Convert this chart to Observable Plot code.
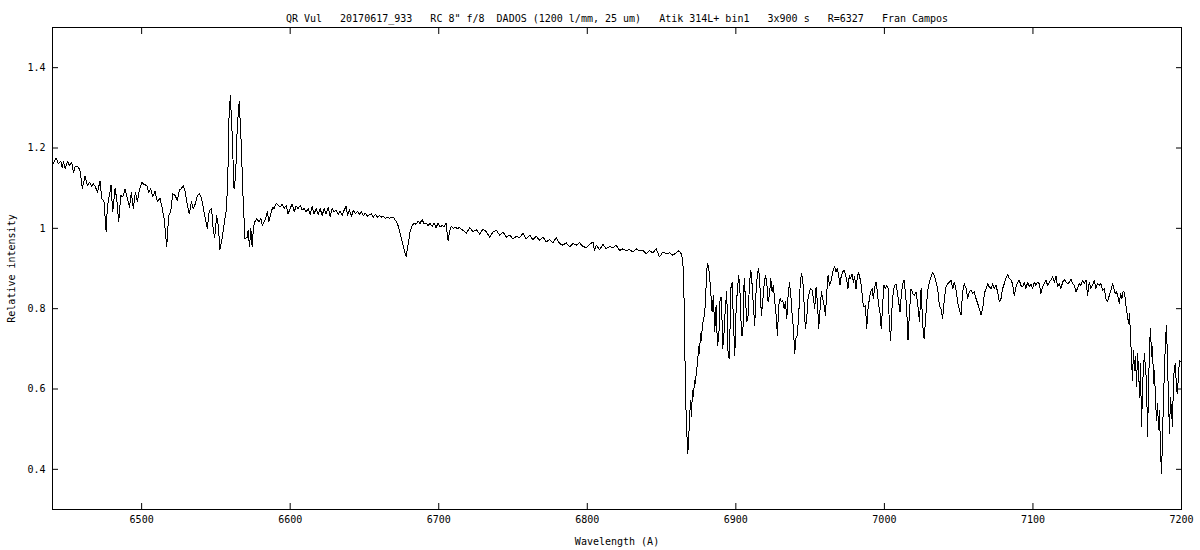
<!DOCTYPE html>
<html><head><meta charset="utf-8">
<script src="https://cdn.jsdelivr.net/npm/d3@7"></script>
<script src="https://cdn.jsdelivr.net/npm/@observablehq/plot@0.6"></script>
<style>
html,body{margin:0;padding:0;background:#fff;}
#chart svg{display:block;}
#chart text{white-space:pre;}
#chart g[aria-label="line"] path{shape-rendering:crispEdges;}
</style></head><body><div id="chart"></div>
<script>
const titleText = 'QR Vul   20170617_933   RC 8" f/8  DADOS (1200 l/mm, 25 um)   Atik 314L+ bin1   3x900 s   R=6327   Fran Campos';
const xLabel = "Wavelength (A)";
const yLabel = "Relative intensity";
const xTicks = [6500, 6600, 6700, 6800, 6900, 7000, 7100, 7200];
const yTicks = [0.4, 0.6, 0.8, 1, 1.2, 1.4];
const xDomain = [6440, 7200];
const yDomain = [0.3, 1.5];

// [wavelength (A), relative intensity]
const segBlue = [
[6440.0,1.157],[6442.4,1.175],[6444.0,1.161],[6445.6,1.167],[6446.5,1.150],[6447.4,1.167],[6448.5,1.148],[6450.1,1.167],
[6451.4,1.157],[6453.0,1.163],[6454.1,1.139],[6455.4,1.155],[6457.5,1.152],[6458.6,1.142],[6460.1,1.100],[6461.9,1.130],
[6463.5,1.107],[6464.9,1.115],[6466.2,1.105],[6467.5,1.111],[6468.9,1.103],[6470.2,1.090],[6472.0,1.117],[6473.2,1.074],
[6474.7,1.066],[6476.1,0.991],[6477.0,1.057],[6478.3,1.082],[6479.4,1.107],[6480.5,1.041],[6482.1,1.099],[6483.2,1.074],
[6484.6,1.016],[6485.9,1.082],[6487.3,1.078],[6488.8,1.097],[6490.4,1.074],[6491.8,1.053],[6493.1,1.090],[6494.4,1.049],
[6495.8,1.090],[6497.1,1.066],[6498.5,1.095],[6500.1,1.115],[6501.6,1.109],[6503.4,1.107],[6504.8,1.090],[6506.1,1.099],
[6507.5,1.078],[6509.0,1.092],[6510.6,1.067],[6512.4,1.074],[6513.7,1.053],[6515.3,1.020],[6516.9,0.954],[6518.2,1.032],
[6519.6,1.041],[6520.9,1.086],[6522.5,1.082],[6524.0,1.070],[6525.4,1.095],[6526.7,1.099],[6528.1,1.107],[6529.4,1.090],
[6530.8,1.057],[6532.1,1.036],[6533.5,1.066],[6534.8,1.049],[6536.1,1.061],[6537.5,1.082],[6538.8,1.086],[6540.4,1.074],
[6542.0,1.041],[6543.3,1.016],[6544.2,0.999],[6545.6,1.045],[6547.1,1.049],[6548.3,0.991],[6549.2,0.978],[6550.5,1.032],
[6551.6,1.007],[6552.7,0.948],[6554.1,0.974],[6555.4,1.007],[6556.8,1.041],[6557.9,1.107],[6558.8,1.273],[6559.7,1.331],
[6560.8,1.248],[6562.2,1.099],[6563.3,1.132],[6564.4,1.256],[6565.7,1.316],[6566.9,1.223],[6568.4,1.066],[6569.6,0.974],
[6571.1,0.978]
];
const segContinuum = [
[6571.7,0.995],[6572.6,0.954],[6573.5,0.999],[6574.4,0.954],[6575.3,1.003],[6576.2,1.016],[6577.6,1.024],[6578.9,1.016],
[6580.3,1.024],[6581.2,1.007],[6582.5,1.016],[6583.8,1.028],[6584.7,1.043],[6585.6,1.016],[6587.0,1.038],[6588.3,1.053],
[6589.2,1.049],[6590.6,1.063],[6591.9,1.057],[6593.3,1.053],[6594.6,1.060],[6596.0,1.049],[6597.3,1.057],[6598.6,1.036],
[6600.0,1.049],[6601.3,1.061],[6602.7,1.041],[6604.0,1.055],[6605.4,1.049],[6606.7,1.057],[6608.1,1.046],[6609.4,1.049],
[6610.8,1.041],[6612.1,1.049],[6613.4,1.035],[6614.8,1.055],[6616.1,1.036],[6617.5,1.049],[6618.8,1.035],[6620.2,1.049],
[6621.5,1.032],[6622.9,1.049],[6624.2,1.036],[6625.6,1.051],[6626.9,1.030],[6628.2,1.049],[6629.6,1.041],[6630.9,1.045],
[6632.3,1.035],[6633.6,1.043],[6635.0,1.032],[6636.3,1.045],[6637.7,1.055],[6638.6,1.032],[6639.9,1.046],[6641.2,1.030],
[6642.6,1.045],[6643.9,1.036],[6645.3,1.043],[6646.6,1.035],[6648.0,1.041],[6649.3,1.032],[6650.7,1.038],[6652.0,1.030],
[6653.4,1.035],[6654.7,1.036],[6656.0,1.028],[6657.4,1.035],[6658.7,1.028],[6660.1,1.032],[6661.4,1.028],[6662.8,1.030],
[6664.1,1.024],[6665.5,1.028],[6666.8,1.025],[6668.1,1.028],[6669.5,1.028],[6670.8,1.020],[6672.2,1.012],[6673.5,0.995],
[6674.9,0.974],[6676.2,0.954],[6677.1,0.941],[6678.0,0.930],[6678.9,0.949],[6679.8,0.970],[6680.7,0.991],[6682.1,1.007],
[6683.4,1.013],[6684.7,1.010],[6686.1,1.018],[6687.4,1.012],[6688.8,1.022],[6690.1,1.012],[6691.5,1.013],[6692.8,1.007],
[6694.2,1.012],[6695.5,1.005],[6696.8,1.013],[6698.2,1.002],[6699.5,1.012],[6700.9,1.003],[6702.2,1.007],[6703.6,1.005],
[6704.9,1.012],[6706.3,0.970],[6707.2,0.991],[6708.5,1.005],[6709.9,0.999],[6711.2,1.003],[6712.5,0.999],[6713.9,1.002],
[6715.2,0.997],[6716.6,0.995]
];
const segBand = [
[6718.6,0.987],[6720.8,1.002],[6723.1,0.991],[6725.3,0.997],[6727.6,0.985],[6729.8,0.999],[6732.0,0.991],[6734.3,0.978],
[6736.5,0.991],[6738.8,0.995],[6741.0,0.983],[6743.2,0.991],[6745.5,0.978],[6747.7,0.983],[6750.0,0.974],[6752.2,0.980],
[6754.5,0.977],[6756.7,0.988],[6758.9,0.974],[6761.2,0.983],[6763.4,0.972],[6765.7,0.980],[6767.9,0.970],[6770.2,0.978],
[6772.4,0.966],[6774.6,0.972],[6776.9,0.964],[6779.1,0.977],[6781.4,0.962],[6783.6,0.958],[6785.8,0.964],[6788.1,0.954],
[6790.3,0.962],[6792.6,0.958],[6794.8,0.964],[6797.1,0.955],[6799.3,0.952],[6801.5,0.960],[6803.8,0.966],[6804.9,0.945],
[6806.0,0.958],[6808.3,0.947],[6810.5,0.960],[6812.7,0.949],[6815.0,0.955],[6817.2,0.952],[6819.5,0.958],[6821.7,0.945],
[6824.0,0.949],[6826.2,0.945],[6828.4,0.947],[6830.7,0.941],[6832.9,0.949],[6835.2,0.944],[6837.4,0.945],[6839.6,0.937],
[6841.9,0.944],[6844.1,0.939],[6846.4,0.949],[6848.6,0.929],[6850.9,0.941],[6853.1,0.937],[6855.3,0.939],[6857.6,0.933],
[6859.8,0.939],[6861.6,0.944],[6863.2,0.937],[6864.3,0.920],[6865.0,0.854],[6865.7,0.688],[6866.3,0.564],[6867.0,0.489],
[6867.7,0.440],[6868.3,0.481],[6868.8,0.523],[6869.5,0.572],[6870.1,0.531],[6870.8,0.597],[6871.5,0.581],[6872.2,0.622],
[6872.8,0.614],[6873.5,0.647],[6874.2,0.663],[6874.9,0.705],[6875.5,0.688],[6876.2,0.738],[6876.9,0.721],[6877.5,0.763],
[6878.2,0.771],[6878.9,0.788],[6879.6,0.813],[6880.2,0.887],[6880.9,0.912],[6881.6,0.904]
];
const segTelluricA = [
[6882.3,0.883],[6883.4,0.825],[6884.0,0.792],[6884.9,0.833],[6885.8,0.742],[6886.7,0.808],[6887.6,0.709],[6888.5,0.726],
[6889.4,0.825],[6890.3,0.829],[6891.2,0.701],[6892.1,0.742],[6893.0,0.808],[6893.9,0.842],[6894.8,0.684],[6895.7,0.676],
[6896.6,0.850],[6897.5,0.866],[6898.4,0.767],[6899.3,0.684],[6900.2,0.800],[6901.1,0.850],[6902.0,0.883],[6902.9,0.833],
[6903.8,0.734],[6904.7,0.734],[6905.6,0.875],[6906.5,0.825],[6907.4,0.767],[6908.3,0.784],[6909.2,0.866],[6910.1,0.895],
[6911.0,0.858],[6911.8,0.808],[6912.7,0.759],[6913.6,0.842],[6914.5,0.887],[6915.4,0.900],[6916.3,0.850],[6917.2,0.784],
[6918.1,0.817],[6919.0,0.858],[6919.9,0.883],[6920.8,0.866],[6921.7,0.817],[6922.6,0.833],[6923.5,0.875],[6924.4,0.842],
[6925.3,0.858],[6926.2,0.817],[6927.1,0.784],[6928.0,0.734],[6928.9,0.808],[6929.8,0.825],[6930.7,0.817],[6931.6,0.821],
[6932.5,0.800],[6933.4,0.817],[6934.3,0.775],[6935.2,0.833],[6936.1,0.866],[6937.0,0.833],[6937.9,0.784],[6938.8,0.750],
[6939.6,0.688],[6940.5,0.726],[6941.4,0.734],[6942.3,0.784],[6943.2,0.850],[6944.1,0.887],[6945.0,0.875],[6945.9,0.817],
[6946.8,0.750],[6947.7,0.775],[6948.6,0.825],[6949.5,0.842],[6950.4,0.850],[6951.3,0.846],[6952.2,0.825],[6953.1,0.800],
[6954.0,0.854],[6954.9,0.817],[6955.8,0.750],[6956.7,0.800],[6957.6,0.842],[6958.5,0.825],[6959.4,0.808],[6960.3,0.784],
[6961.2,0.842],[6962.1,0.883],[6963.0,0.858],[6963.9,0.866],[6964.8,0.883],[6965.7,0.900],[6966.6,0.904],[6967.4,0.891],
[6968.3,0.900],[6969.2,0.883],[6970.1,0.858],[6971.0,0.883],[6971.9,0.891],[6972.8,0.895],[6973.7,0.887],[6974.6,0.871],
[6975.5,0.850],[6976.4,0.883],[6977.3,0.875],[6978.2,0.887],[6979.1,0.866],[6980.0,0.879],[6980.9,0.850],[6981.8,0.879],
[6982.7,0.891],[6983.6,0.875],[6984.5,0.858],[6985.4,0.817],[6986.3,0.804],[6987.2,0.808],[6988.1,0.750],[6989.0,0.800],
[6989.9,0.825],[6990.8,0.842],[6991.7,0.850],[6992.6,0.825],[6993.5,0.854],[6994.4,0.866],[6995.3,0.842],[6996.1,0.808],
[6997.0,0.792],[6997.9,0.750],[6998.8,0.808],[6999.7,0.858],[7000.6,0.850],[7001.5,0.858],[7002.4,0.854],[7003.3,0.767],
[7004.2,0.721],[7005.1,0.800],[7006.0,0.842],[7006.9,0.858],[7007.8,0.862],[7008.7,0.842],[7009.6,0.817],[7010.5,0.792],
[7011.4,0.833],[7012.3,0.862],[7013.2,0.871],[7014.1,0.842],[7015.0,0.800],[7015.9,0.721]
];
const segTelluricB = [
[7016.8,0.784],[7017.9,0.850],[7019.1,0.838],[7020.2,0.833],[7021.3,0.842],[7022.4,0.813],[7023.6,0.767],[7024.7,0.850],
[7025.8,0.759],[7026.7,0.726],[7027.6,0.767],[7028.5,0.817],[7029.4,0.850],[7030.3,0.866],[7031.4,0.879],[7032.5,0.891],
[7033.6,0.883],[7034.8,0.866],[7035.9,0.850],[7037.0,0.808],[7038.1,0.800],[7039.2,0.775],[7040.4,0.825],[7041.5,0.854],
[7042.6,0.862],[7043.7,0.866],[7044.9,0.871],[7046.0,0.850],[7047.1,0.866],[7048.2,0.846],[7049.3,0.817],[7050.5,0.796],
[7051.6,0.784],[7052.7,0.842],[7053.8,0.862],[7055.0,0.850],[7056.1,0.825],[7057.2,0.842],[7058.3,0.846],[7059.4,0.838],
[7060.5,0.842],[7061.7,0.825],[7062.8,0.813],[7063.9,0.800],[7065.0,0.784],[7066.2,0.800],[7067.3,0.838],[7068.4,0.850],
[7069.5,0.862],[7070.6,0.854],[7071.8,0.850],[7072.9,0.862],[7074.0,0.850],[7075.1,0.858],[7076.2,0.842],[7077.4,0.817],
[7078.5,0.825],[7079.6,0.850],[7080.7,0.862],[7081.8,0.875],[7083.0,0.885],[7084.1,0.875],[7085.2,0.871],[7086.3,0.862],
[7087.4,0.833],[7088.6,0.854],[7089.7,0.866],[7090.8,0.871],[7091.9,0.858],[7093.1,0.854],[7094.2,0.866],[7095.3,0.850],
[7096.4,0.866],[7097.5,0.854],[7098.7,0.862],[7099.8,0.850],[7100.9,0.866],[7102.0,0.858],[7103.1,0.866],[7104.3,0.862],
[7105.4,0.838],[7106.5,0.854],[7107.6,0.862],[7108.7,0.871],[7109.9,0.858],[7111.0,0.866],[7112.1,0.871],[7113.2,0.879],
[7114.4,0.866],[7115.5,0.881],[7116.6,0.854],[7117.7,0.862],[7118.8,0.850],[7120.0,0.866],[7121.1,0.873],[7122.2,0.866],
[7123.3,0.862],[7124.4,0.866],[7125.6,0.873],[7126.7,0.862],[7127.8,0.858],[7128.9,0.842],[7130.0,0.850],[7131.2,0.862],
[7132.3,0.858],[7133.4,0.871],[7134.5,0.862],[7135.7,0.871],[7136.8,0.833],[7137.9,0.866],[7139.0,0.850],[7140.1,0.858],
[7141.3,0.871],[7142.4,0.850],[7143.5,0.862]
];
const segRed = [
[7144.6,0.858],[7145.7,0.862],[7146.9,0.846],[7148.0,0.850],[7149.1,0.825],[7150.2,0.817],[7151.4,0.833],[7152.5,0.846],
[7153.6,0.862],[7154.5,0.850],[7155.4,0.838],[7156.3,0.842],[7157.2,0.829],[7158.1,0.813],[7159.0,0.838],[7159.9,0.825],
[7160.8,0.844],[7161.7,0.838],[7162.6,0.808],[7163.5,0.784],[7164.4,0.763],[7165.0,0.788],[7165.7,0.730],[7166.4,0.672],
[7167.0,0.622],[7167.7,0.697],[7168.4,0.647],[7169.1,0.680],[7169.7,0.605],[7170.4,0.688],[7171.1,0.647],[7171.8,0.580],
[7172.4,0.663],[7173.1,0.506],[7173.8,0.605],[7174.4,0.655],[7175.1,0.688],[7175.8,0.647],[7176.5,0.622],[7177.1,0.481],
[7177.8,0.597],[7178.5,0.713],[7179.2,0.750],[7179.8,0.680],[7180.5,0.705],[7181.2,0.614],[7181.8,0.647],[7182.5,0.572],
[7183.2,0.522],[7183.9,0.564],[7184.5,0.498],[7185.2,0.547],[7185.9,0.440],[7186.6,0.390],[7187.2,0.481],[7187.9,0.580],
[7188.6,0.655],[7189.2,0.721],[7189.9,0.759],[7190.6,0.663],[7191.3,0.572],[7191.9,0.489],[7192.6,0.580],[7193.3,0.547],
[7193.9,0.506],[7194.6,0.622],[7195.3,0.655],[7196.0,0.663],[7196.6,0.597],[7197.3,0.589],[7198.0,0.638],[7198.7,0.672],
[7200.0,0.665]
];

const spectrum = [segBlue, segContinuum, segBand, segTelluricA, segTelluricB, segRed]
  .flat()
  .map(([w, v]) => ({wavelength: w, intensity: v}));

const font = "'DejaVu Sans Mono', 'Liberation Mono', monospace";

const chart = Plot.plot({
  width: 1200,
  height: 550,
  marginLeft: 52,
  marginRight: 19,
  marginTop: 27,
  marginBottom: 41,
  style: {fontFamily: font, fontSize: "10px", color: "#000", background: "#fff"},
  x: {domain: xDomain},
  y: {domain: yDomain},
  marks: [
    Plot.axisX(xTicks, {anchor: "bottom", tickSize: -6, tickPadding: 12, tickFormat: d => String(d),
      label: xLabel, labelAnchor: "center", labelOffset: 35, labelArrow: "none"}),
    Plot.axisX(xTicks, {anchor: "top", tickSize: -6, tickFormat: () => "", label: null}),
    Plot.axisY(yTicks, {anchor: "left", tickSize: -6, tickPadding: 13, tickFormat: d => String(d),
      label: yLabel, labelAnchor: "center", labelOffset: 45, labelArrow: "none"}),
    Plot.axisY(yTicks, {anchor: "right", tickSize: -6, tickFormat: () => "", label: null}),
    Plot.frame({stroke: "#000", strokeWidth: 1}),
    Plot.line(spectrum, {x: "wavelength", y: "intensity", stroke: "#000", strokeWidth: 1}),
    Plot.text([titleText], {text: d => d, frameAnchor: "top", dy: -13, fill: "#000", fontSize: 10})
  ]
});
document.getElementById("chart").appendChild(chart);
</script>
</body></html>
